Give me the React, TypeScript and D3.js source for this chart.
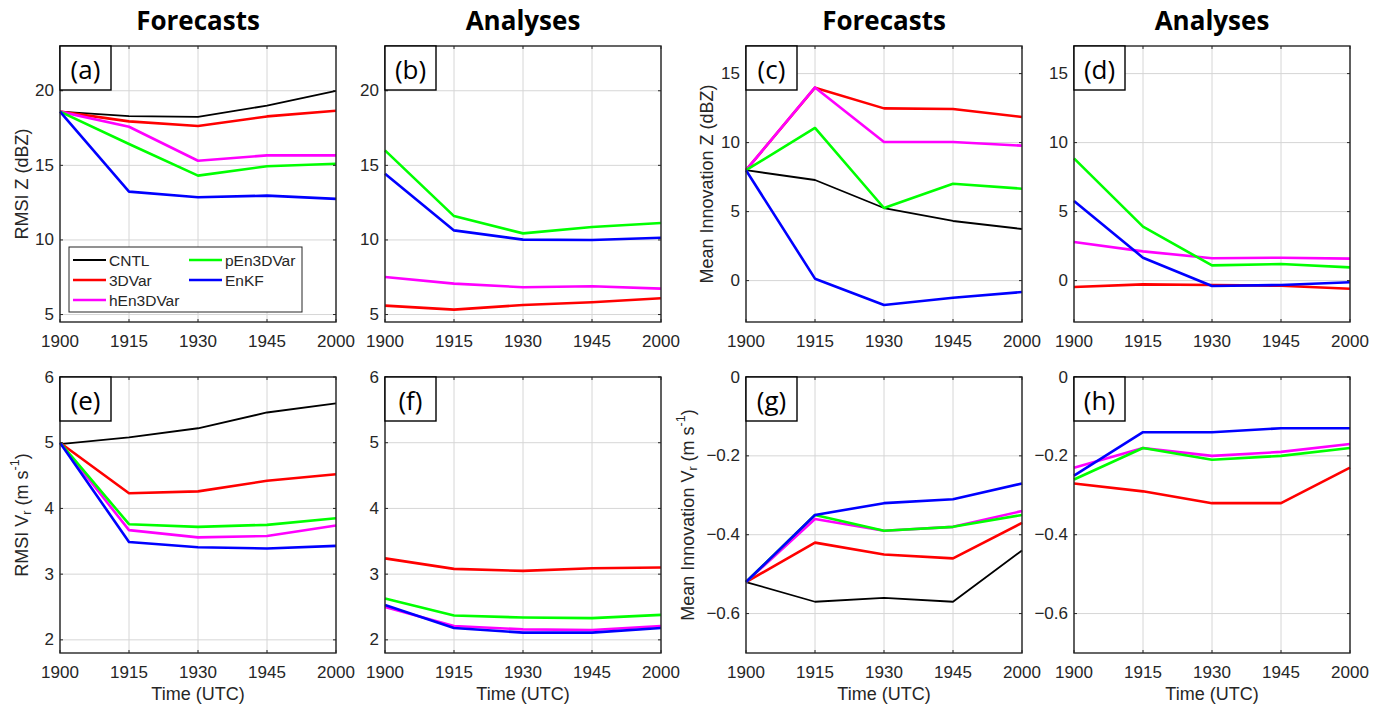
import { useEffect, useRef } from 'react';
import * as d3 from 'd3';

const times = ['1900', '1915', '1930', '1945', '2000'];
const methods = ['CNTL', '3DVar', 'hEn3DVar', 'pEn3DVar', 'EnKF'];
const colors = ['#000000', '#ff0000', '#ff00ff', '#00ff00', '#0000ff'];

// one row per method (same order as `methods`), null = not plotted
const rmsiZFcst = [
  [18.6, 18.3, 18.25, 19.0, 20.0],
  [18.6, 17.95, 17.64, 18.28, 18.66],
  [18.6, 17.59, 15.31, 15.67, 15.67],
  [18.6, 16.43, 14.31, 14.94, 15.11],
  [18.6, 13.24, 12.86, 12.97, 12.75],
];
const rmsiZAnal = [
  null,
  [5.6, 5.33, 5.64, 5.82, 6.09],
  [7.52, 7.07, 6.83, 6.9, 6.74],
  [16.0, 11.6, 10.44, 10.87, 11.14],
  [14.44, 10.64, 10.02, 10.0, 10.15],
];
const innovZFcst = [
  [8.0, 7.29, 5.26, 4.32, 3.74],
  [8.0, 13.98, 12.48, 12.43, 11.86],
  [8.0, 14.0, 10.04, 10.04, 9.78],
  [8.0, 11.06, 5.26, 7.02, 6.66],
  [8.0, 0.14, -1.77, -1.24, -0.83],
];
const innovZAnal = [
  null,
  [-0.46, -0.27, -0.32, -0.37, -0.59],
  [2.8, 2.12, 1.62, 1.66, 1.59],
  [8.86, 3.91, 1.1, 1.2, 0.96],
  [5.77, 1.66, -0.39, -0.32, -0.12],
];
const rmsiVrFcst = [
  [4.98, 5.08, 5.22, 5.46, 5.6],
  [5.0, 4.23, 4.26, 4.42, 4.52],
  [5.0, 3.67, 3.56, 3.58, 3.74],
  [5.0, 3.76, 3.72, 3.75, 3.85],
  [5.0, 3.49, 3.41, 3.39, 3.43],
];
const rmsiVrAnal = [
  null,
  [3.24, 3.08, 3.05, 3.09, 3.1],
  [2.5, 2.21, 2.16, 2.15, 2.21],
  [2.63, 2.37, 2.34, 2.33, 2.38],
  [2.53, 2.18, 2.11, 2.11, 2.18],
];
const innovVrFcst = [
  [-0.52, -0.57, -0.56, -0.57, -0.44],
  [-0.52, -0.42, -0.45, -0.46, -0.37],
  [-0.52, -0.36, -0.39, -0.38, -0.34],
  [-0.52, -0.35, -0.39, -0.38, -0.35],
  [-0.52, -0.35, -0.32, -0.31, -0.27],
];
const innovVrAnal = [
  null,
  [-0.27, -0.29, -0.32, -0.32, -0.23],
  [-0.23, -0.18, -0.2, -0.19, -0.17],
  [-0.26, -0.18, -0.21, -0.2, -0.18],
  [-0.25, -0.14, -0.14, -0.13, -0.13],
];

const ticksZ = [5, 10, 15, 20];
const ticksInnovZ = [0, 5, 10, 15];
const ticksVr = [2, 3, 4, 5, 6];
const ticksInnovVr = [-0.6, -0.4, -0.2, 0];

const W = 276;
const H = 276;
const AX = '#262626';
const FONT = '"Liberation Sans", Arial, sans-serif';

type YLabel = { main: string; sub?: string; x: number } | null;

const panels = [
  { tag: '(a)', data: rmsiZFcst, dom: [4.5, 23], ticks: ticksZ, x0: 60, y0: 46, title: 'Forecasts', ylab: { main: 'RMSI Z (dBZ)', x: 22 } as YLabel, legend: true },
  { tag: '(b)', data: rmsiZAnal, dom: [4.5, 23], ticks: ticksZ, x0: 385, y0: 46, title: 'Analyses', ylab: null },
  { tag: '(c)', data: innovZFcst, dom: [-3, 17], ticks: ticksInnovZ, x0: 746, y0: 46, title: 'Forecasts', ylab: { main: 'Mean Innovation Z (dBZ)', x: 707 } },
  { tag: '(d)', data: innovZAnal, dom: [-3, 17], ticks: ticksInnovZ, x0: 1074, y0: 46, title: 'Analyses', ylab: null },
  { tag: '(e)', data: rmsiVrFcst, dom: [1.8, 6], ticks: ticksVr, x0: 60, y0: 377, ylab: { main: 'RMSI V', sub: 'r', x: 22 }, xlab: true },
  { tag: '(f)', data: rmsiVrAnal, dom: [1.8, 6], ticks: ticksVr, x0: 385, y0: 377, ylab: null, xlab: true },
  { tag: '(g)', data: innovVrFcst, dom: [-0.7, 0], ticks: ticksInnovVr, x0: 746, y0: 377, ylab: { main: 'Mean Innovation V', sub: 'r', x: 688 }, xlab: true },
  { tag: '(h)', data: innovVrAnal, dom: [-0.7, 0], ticks: ticksInnovVr, x0: 1074, y0: 377, ylab: null, xlab: true },
];

export default function App() {
  const svgRef = useRef<SVGSVGElement>(null);

  useEffect(() => {
    const svg = d3.select(svgRef.current);
    svg.selectAll('*').remove();
    svg.append('rect').attr('width', 1384).attr('height', 706).attr('fill', '#fff');

    panels.forEach((p: any) => {
      const x = d3.scalePoint<string>().domain(times).range([0, W]);
      const y = d3.scaleLinear().domain(p.dom).range([H, 0]);
      const g = svg.append('g').attr('transform', `translate(${p.x0},${p.y0})`);
      const fmt = d3.format('');

      // grid
      g.selectAll('.gx').data(times).enter().append('line')
        .attr('x1', d => x(d)!).attr('x2', d => x(d)!).attr('y1', 0).attr('y2', H)
        .attr('stroke', '#d6d6d6').attr('stroke-width', 1);
      g.selectAll('.gy').data(p.ticks as number[]).enter().append('line')
        .attr('x1', 0).attr('x2', W).attr('y1', d => y(d)).attr('y2', d => y(d))
        .attr('stroke', '#d6d6d6').attr('stroke-width', 1);

      // series
      const line = d3.line<number>().x((_, i) => x(times[i])!).y(d => y(d));
      (p.data as (number[] | null)[]).forEach((s, i) => {
        if (!s) return;
        g.append('path').attr('d', line(s)!).attr('fill', 'none')
          .attr('stroke', colors[i]).attr('stroke-width', i === 0 ? 1.8 : 2.6)
          .attr('stroke-linejoin', 'round');
      });

      // frame + inward ticks on all sides
      g.append('rect').attr('width', W).attr('height', H).attr('fill', 'none')
        .attr('stroke', AX).attr('stroke-width', 1.4);
      const tk = 3;
      times.forEach(t => {
        g.append('line').attr('x1', x(t)!).attr('x2', x(t)!).attr('y1', H).attr('y2', H - tk).attr('stroke', AX);
        g.append('line').attr('x1', x(t)!).attr('x2', x(t)!).attr('y1', 0).attr('y2', tk).attr('stroke', AX);
        g.append('text').attr('x', x(t)!).attr('y', H + 19).attr('text-anchor', 'middle')
          .attr('dominant-baseline', 'central').attr('font-family', FONT).attr('font-size', 17)
          .attr('fill', AX).text(t);
      });
      (p.ticks as number[]).forEach(v => {
        g.append('line').attr('x1', 0).attr('x2', tk).attr('y1', y(v)).attr('y2', y(v)).attr('stroke', AX);
        g.append('line').attr('x1', W).attr('x2', W - tk).attr('y1', y(v)).attr('y2', y(v)).attr('stroke', AX);
        g.append('text').attr('x', -6).attr('y', y(v)).attr('text-anchor', 'end')
          .attr('dominant-baseline', 'central').attr('font-family', FONT).attr('font-size', 17)
          .attr('fill', AX).text(fmt(v));
      });

      // panel tag box
      g.append('rect').attr('width', 51).attr('height', 44).attr('fill', '#fff')
        .attr('stroke', '#000').attr('stroke-width', 1.4);
      g.append('text').attr('x', 25.5).attr('y', 23).attr('text-anchor', 'middle')
        .attr('dominant-baseline', 'central').attr('font-family', '"Open Sans", sans-serif')
        .attr('font-size', 26).attr('fill', '#000').text(p.tag);

      if (p.title) {
        g.append('text').attr('x', W / 2).attr('y', -16).attr('text-anchor', 'middle')
          .attr('font-family', '"Open Sans", sans-serif').attr('font-weight', 700)
          .attr('font-size', 26).attr('fill', '#000').text(p.title);
      }
      if (p.xlab) {
        g.append('text').attr('x', W / 2).attr('y', H + 41).attr('text-anchor', 'middle')
          .attr('dominant-baseline', 'central').attr('font-family', FONT).attr('font-size', 18)
          .attr('fill', AX).text('Time (UTC)');
      }
      if (p.ylab) {
        const t = svg.append('text')
          .attr('transform', `translate(${p.ylab.x},${p.y0 + H / 2}) rotate(-90)`)
          .attr('text-anchor', 'middle').attr('dominant-baseline', 'central')
          .attr('font-family', FONT).attr('font-size', 18).attr('fill', AX);
        if (p.ylab.sub) {
          t.append('tspan').text(p.ylab.main);
          t.append('tspan').attr('font-size', 12.5).attr('dy', 5).text(p.ylab.sub);
          t.append('tspan').attr('dy', -5).text(' (m s');
          t.append('tspan').attr('font-size', 12.5).attr('dy', -7).text('-1');
          t.append('tspan').attr('dy', 7).text(')');
        } else {
          t.text(p.ylab.main);
        }
      }

      if (p.legend) {
        const lg = g.append('g').attr('transform', 'translate(9,201)');
        lg.append('rect').attr('width', 233).attr('height', 65).attr('fill', '#fff')
          .attr('stroke', AX).attr('stroke-width', 1);
        const cols = [[0, 1, 2], [3, 4]];
        cols.forEach((c, ci) => {
          c.forEach((mi, ri) => {
            const lx = 4 + ci * 116;
            const ly = 13 + ri * 20;
            lg.append('line').attr('x1', lx).attr('x2', lx + 33).attr('y1', ly).attr('y2', ly)
              .attr('stroke', colors[mi]).attr('stroke-width', mi === 0 ? 1.8 : 2.6);
            lg.append('text').attr('x', lx + 36).attr('y', ly).attr('dominant-baseline', 'central')
              .attr('font-family', FONT).attr('font-size', 15.5).attr('fill', AX).text(methods[mi]);
          });
        });
      }
    });
  }, []);

  return (
    <svg ref={svgRef} width={1384} height={706}
      style={{ position: 'absolute', left: 0, top: 0, display: 'block' }} />
  );
}
